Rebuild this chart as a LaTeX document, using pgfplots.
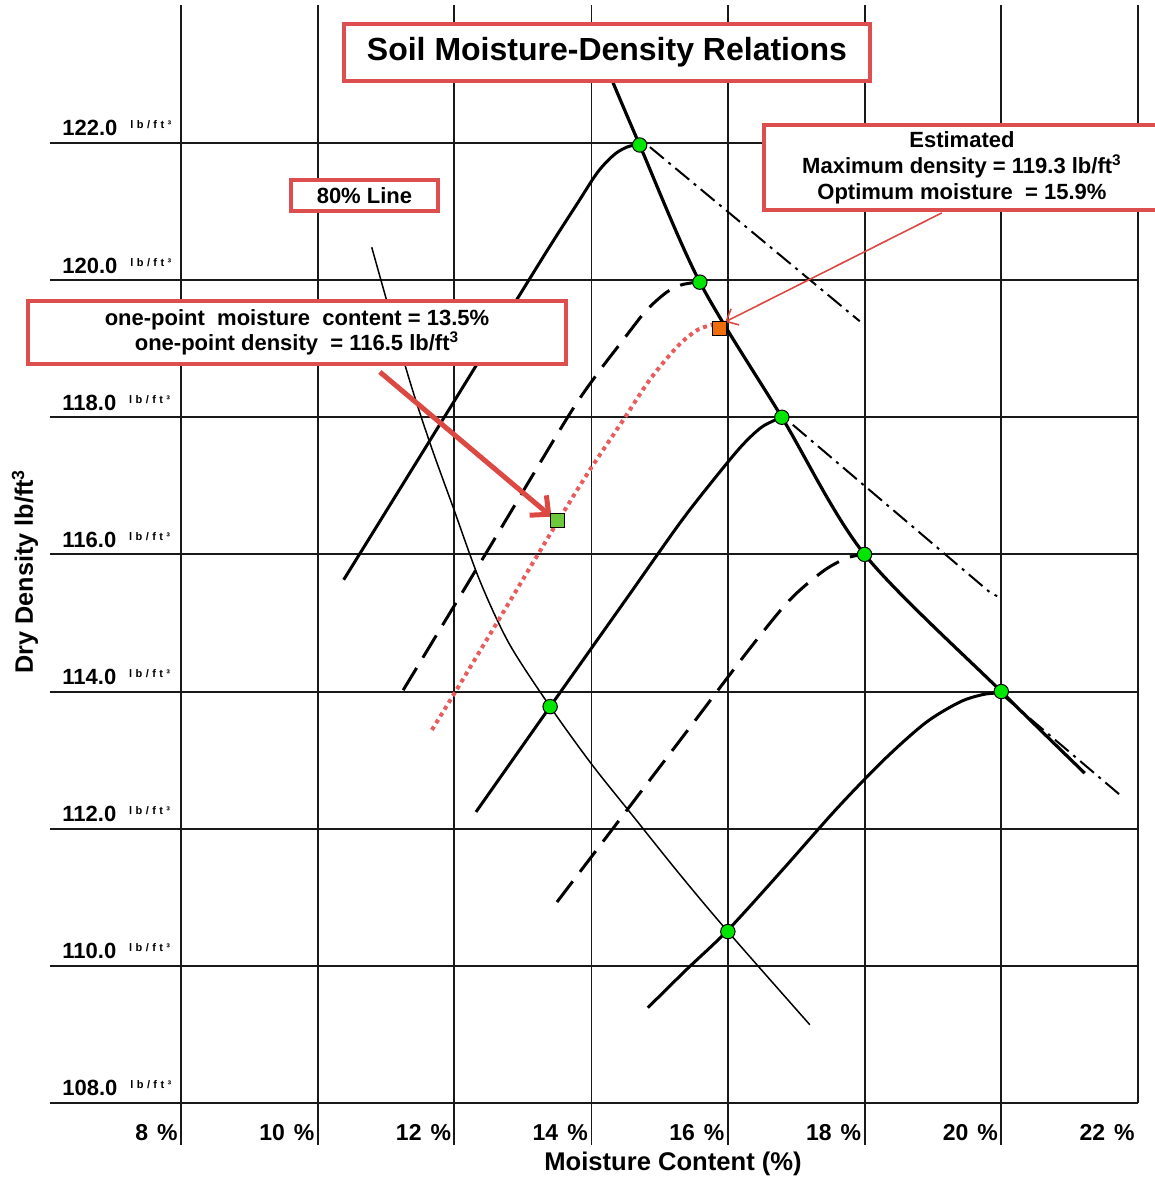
\documentclass[border=0pt]{standalone}
\usepackage{fontspec}
\setmainfont{Liberation Sans}
\usepackage{pgfplots}
\pgfplotsset{compat=1.18}
\usetikzlibrary{arrows.meta}

\definecolor{boxred}{RGB}{221,78,78}
\definecolor{dotred}{RGB}{232,92,92}
\definecolor{arrred}{RGB}{220,72,66}
\definecolor{dotgreen}{RGB}{0,230,0}
\definecolor{sqgreen}{RGB}{110,200,60}
\definecolor{sqorange}{RGB}{240,110,10}
\definecolor{gridc}{RGB}{25,25,25}

\newcommand\yl[1]{#1\hspace{6.5pt}\raisebox{3.5pt}{\fontsize{5.5}{6}\selectfont l\kern1.7pt b\kern1.7pt/\kern1.7pt f\kern1.7pt t\kern1.7pt ³}}
\newcommand\xl[1]{#1\hspace{4.5pt}\%}

\begin{document}
\begin{tikzpicture}
\begin{axis}[
  scale only axis, width=577.5pt, height=589pt,
  xmin=5.3521, xmax=22.249, ymin=106.906, ymax=124.085,
  axis line style={draw=none}, tick style={draw=none},
  clip=false,
  font=\bfseries,
  xtick={8,10,...,22},
  xticklabels={\xl{8},\xl{10},\xl{12},\xl{14},\xl{16},\xl{18},\xl{20},\xl{22}},
  xticklabel style={font=\fontsize{11.5}{11.5}\selectfont\bfseries, anchor=base east, inner sep=0pt, xshift=-1.5pt, yshift=19pt},
  ytick={108,110,...,122},
  yticklabels={\yl{108.0},\yl{110.0},\yl{112.0},\yl{114.0},\yl{116.0},\yl{118.0},\yl{120.0},\yl{122.0}},
  yticklabel style={font=\fontsize{11}{11}\selectfont\bfseries, anchor=base west, inner sep=0pt, xshift=31pt, yshift=3.5pt},
  xlabel={Moisture Content (\%)},
  xlabel style={font=\fontsize{12.8}{13}\selectfont\bfseries, at={(rel axis cs:0.5827,0)}, anchor=base, inner sep=0pt, yshift=3.5pt},
  ylabel={Dry Density lb/ft\textsuperscript{3}},
  ylabel style={font=\fontsize{12.6}{13}\selectfont\bfseries, at={(rel axis cs:0.0216,0.515)}, anchor=center},
]
% grid
\draw[gridc, line width=1pt] (axis cs:6.0836,108) -- (axis cs:22,108);
\draw[gridc, line width=1pt] (axis cs:6.0836,110) -- (axis cs:22,110);
\draw[gridc, line width=1pt] (axis cs:6.0836,112) -- (axis cs:22,112);
\draw[gridc, line width=1pt] (axis cs:6.0836,114) -- (axis cs:22,114);
\draw[gridc, line width=1pt] (axis cs:6.0836,116) -- (axis cs:22,116);
\draw[gridc, line width=1pt] (axis cs:6.0836,118) -- (axis cs:22,118);
\draw[gridc, line width=1pt] (axis cs:6.0836,120) -- (axis cs:22,120);
\draw[gridc, line width=1pt] (axis cs:6.0836,122) -- (axis cs:22,122);
\draw[gridc, line width=1pt] (axis cs:8,124.0125) -- (axis cs:8,107.388);
\draw[gridc, line width=1pt] (axis cs:10,124.0125) -- (axis cs:10,107.388);
\draw[gridc, line width=1pt] (axis cs:12,124.0125) -- (axis cs:12,107.388);
\draw[gridc, line width=0.6pt] (axis cs:14,124.0125) -- (axis cs:14,107.388);
\draw[gridc, line width=1pt] (axis cs:16,124.0125) -- (axis cs:16,107.388);
\draw[gridc, line width=1pt] (axis cs:18,124.0125) -- (axis cs:18,107.388);
\draw[gridc, line width=1pt] (axis cs:20,124.0125) -- (axis cs:20,107.388);
\draw[gridc, line width=1pt] (axis cs:22,124.0125) -- (axis cs:22,108);

% compaction curves
\addplot[black, line width=1.5pt, smooth] coordinates {
  (10.38,115.63) (12.0,118.24) (13.3,120.34) (13.8,121.12) (14.1,121.58) (14.35,121.84) (14.55,121.95) (14.71,121.97)};
\addplot[black, line width=1.5pt, smooth, dash pattern=on 13pt off 6pt] coordinates {
  (11.25,114.02) (12.5,116.08) (13.65,117.99) (14.08,118.62) (14.47,119.13) (14.8,119.55) (15.1,119.82) (15.32,119.93) (15.55,119.97)};
\addplot[black, line width=1.5pt, smooth] coordinates {
  (12.315,112.244) (13.4,113.78) (14.5,115.33) (15.3,116.46) (15.8,117.1) (16.2,117.58) (16.5,117.86) (16.79,118.0)};
\addplot[black, line width=1.5pt, smooth, dash pattern=on 13pt off 6pt] coordinates {
  (13.5,110.93) (14.5,112.24) (15.5,113.55) (16.3,114.6) (16.9,115.33) (17.4,115.76) (17.75,115.95) (18.0,116.0)};
\addplot[black, line width=1.5pt, smooth] coordinates {
  (14.83,109.39) (15.4,109.95) (16.0,110.52) (16.8,111.4) (17.6,112.3) (18.3,113.02) (18.9,113.55) (19.4,113.85) (19.75,113.96) (20.0,113.98)};

% wet sides (dash-dot)
\addplot[black, line width=1pt, dash pattern=on 9pt off 3pt on 1.5pt off 3pt] coordinates {
  (14.86,121.94) (17.82,119.49) (17.93,119.40)};
\addplot[black, line width=1pt, dash pattern=on 9pt off 3pt on 1.5pt off 3pt] coordinates {
  (16.95,117.89) (19.83,115.45) (19.94,115.39)};
\addplot[black, line width=1pt, dash pattern=on 9pt off 3pt on 1.5pt off 3pt] coordinates {
  (20.05,113.92) (21.74,112.49)};

% line of optimums
\addplot[black, line width=1.6pt, smooth] coordinates {
  (14.32,122.88) (14.71,121.97) (15.59,119.97) (16.79,118.0) (18.0,116.0) (20.0,114.0) (21.22,112.81)};

% 80% line
\addplot[black, line width=0.75pt, smooth] coordinates {
  (10.79,120.48) (11.31,118.65) (11.64,117.63) (11.98,116.69) (12.37,115.62) (12.8,114.7) (13.4,113.78) (14.0,112.95) (14.6,112.2) (15.3,111.33) (16.0,110.5) (17.2,109.14)};

% one-point curve
\addplot[dotred, line width=2pt, smooth, dash pattern=on 2pt off 2pt] coordinates {
  (11.67,113.44) (12.01,113.99) (12.62,115.0) (13.5,116.46) (13.98,117.23) (14.47,117.96) (14.86,118.55) (15.26,119.03) (15.55,119.27) (15.78,119.35)};

% points
\addplot[only marks, mark=*, mark size=3.6pt, mark options={fill=dotgreen, draw=black, line width=0.5pt}] coordinates {
  (14.71,121.97) (15.59,119.97) (16.79,118.0) (18.0,116.0) (20.0,114.0) (13.4,113.78) (16.0,110.5)};
\addplot[only marks, mark=square*, mark size=3.5pt, mark options={fill=sqgreen, draw=none}] coordinates {(13.5,116.5)};
\addplot[only marks, mark=square*, mark size=3.5pt, mark options={fill=sqorange, draw=none}] coordinates {(15.88,119.3)};

% arrows
\draw[arrred, line width=2.5pt, -{Straight Barb[length=7pt,width=13pt]}] (axis cs:10.91,118.66) -- (axis cs:13.42,116.55);
\draw[arrred, line width=0.8pt, -{Straight Barb[length=5pt,width=9pt]}] (axis cs:19.13,120.98) -- (axis cs:15.96,119.39);

% boxes
\node[draw=boxred, line width=2pt, fill=white, minimum width=263pt, minimum height=28.5pt, inner sep=0pt, font=\fontsize{16}{16}\selectfont\bfseries] at (axis cs:14.232,123.32) {Soil Moisture-Density Relations};
\node[draw=boxred, line width=2pt, fill=white, minimum width=73.5pt, minimum height=15.5pt, inner sep=0pt, font=\fontsize{11}{11}\selectfont\bfseries] at (axis cs:10.684,121.234) {80\% Line};
\node[draw=boxred, line width=2pt, fill=white, minimum width=198pt, minimum height=42.5pt, inner sep=0pt, align=center, font=\fontsize{11}{13}\selectfont\bfseries] at (axis cs:19.425,121.643) {Estimated\\Maximum density = 119.3 lb/ft\textsuperscript{3}\\Optimum moisture \ = 15.9\%};
\node[draw=boxred, line width=2pt, fill=white, minimum width=269pt, minimum height=31.5pt, inner sep=0pt, align=center, font=\fontsize{11}{12.5}\selectfont\bfseries] at (axis cs:9.697,119.236) {one-point \ moisture \ content = 13.5\%\\one-point density \ = 116.5 lb/ft\textsuperscript{3}};
\end{axis}
\pgfresetboundingbox
\path[use as bounding box] (current axis.south west) rectangle (current axis.north east);
\end{tikzpicture}
\end{document}
